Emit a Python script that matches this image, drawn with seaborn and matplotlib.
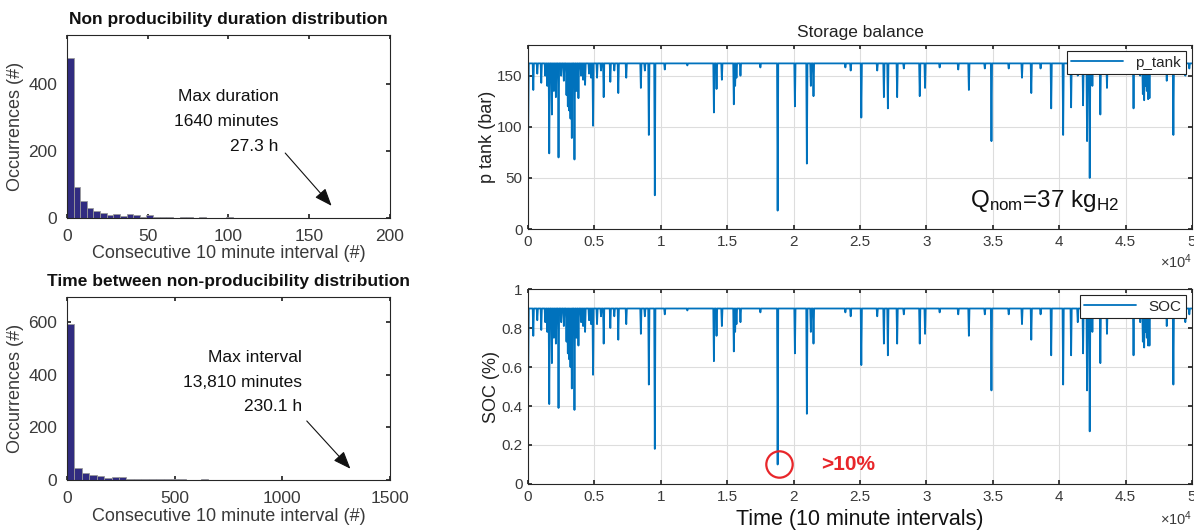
import numpy as np
import pandas as pd
import matplotlib
matplotlib.use("Agg")
import matplotlib.pyplot as plt
import seaborn as sns
from matplotlib.ticker import FuncFormatter

# ---------------- data ----------------
# Histogram 1: non producibility duration (40 bins over 0..164 intervals)
dur_max = 164
dur_counts = [478, 92, 52, 30, 22, 16, 8, 12, 7, 13, 9, 2, 8, 2, 2, 3, 1, 2, 3, 1,
              2, 1, 1, 1, 2, 1, 1, 1, 1, 1, 1, 0, 1, 1, 1, 1, 0, 1, 0, 1]
# Histogram 2: time between non-producibility (40 bins over 0..1381 intervals)
gap_max = 1381
gap_counts = [592, 45, 27, 20, 15, 7, 10, 11, 5, 4, 4, 3, 3, 4, 3, 2, 1, 1, 2, 1,
              1, 1, 1, 1, 1, 0, 1, 1, 0, 1, 0, 1, 0, 1, 0, 0, 1, 0, 1, 1]

# Storage balance time series: baseline and dips (interval index, value)
n_intervals = 50000
p_full = 162
p_start = 73
soc_full = 0.90
soc_start = 0.41
dip_pos = [400, 700, 1000, 1300, 1450, 1600, 1800, 1950, 2100, 2300, 2500, 2700, 2900,
           3000, 3100, 3200, 3300, 3500, 3650, 3800, 4000, 4150, 4300, 4600, 4750, 4900,
           5200, 5500, 5700, 6200, 6500, 6800, 7400, 8500, 8800, 9100, 9550, 10300,
           12000, 14000, 14200, 14600, 15500, 15600, 15700, 16000, 17500, 18800, 20100,
           21000, 21300, 21500, 23900, 24300, 25100, 26300, 26800, 27100, 27800, 28300,
           29500, 29900, 31000, 32400, 33200, 34400, 34900, 36200, 37200, 37900, 38600,
           39400, 40300, 40900, 41400, 41800, 42100, 42300, 42500, 43100, 43600, 44200,
           45600, 46100, 46300, 46400, 46500, 46600, 46700, 46800, 47500, 48100, 48600,
           49500, 49800]
p_dip = [136, 152, 143, 150, 140, 74, 112, 135, 129, 70, 150, 145, 131,
         120, 116, 108, 89, 68, 135, 128, 150, 146, 141, 152, 148, 101,
         148, 155, 129, 144, 155, 133, 148, 138, 155, 92, 33, 156,
         160, 114, 137, 146, 122, 140, 148, 150, 158, 18, 120,
         64, 140, 130, 158, 155, 109, 155, 129, 118, 129, 157,
         130, 138, 158, 156, 136, 157, 86, 157, 148, 133, 157,
         118, 92, 119, 150, 121, 86, 50, 140, 112, 138, 158,
         118, 150, 132, 126, 140, 135, 127, 128, 157, 145, 92,
         150, 157]
soc_dip = [0.76, 0.84, 0.79, 0.83, 0.78, 0.41, 0.62, 0.75, 0.72, 0.39, 0.83, 0.81, 0.73,
           0.67, 0.64, 0.60, 0.49, 0.38, 0.75, 0.71, 0.83, 0.81, 0.78, 0.84, 0.82, 0.56,
           0.82, 0.86, 0.72, 0.80, 0.86, 0.74, 0.82, 0.77, 0.86, 0.51, 0.18, 0.87,
           0.89, 0.63, 0.76, 0.81, 0.68, 0.78, 0.82, 0.83, 0.88, 0.10, 0.67,
           0.36, 0.78, 0.72, 0.88, 0.86, 0.61, 0.86, 0.72, 0.66, 0.72, 0.87,
           0.72, 0.77, 0.88, 0.87, 0.76, 0.87, 0.48, 0.87, 0.82, 0.74, 0.87,
           0.66, 0.51, 0.66, 0.83, 0.67, 0.48, 0.27, 0.78, 0.62, 0.77, 0.88,
           0.66, 0.83, 0.73, 0.70, 0.78, 0.75, 0.71, 0.71, 0.87, 0.81, 0.51,
           0.83, 0.87]


def build_series(start_val, full_val, dips):
    xs = [0, 60]
    ys = [start_val, full_val]
    half = 45
    for pos, val in dips:
        xs += [pos - half, pos, pos + half]
        ys += [full_val, val, full_val]
    xs.append(n_intervals)
    ys.append(full_val)
    return pd.DataFrame({"t": xs, "v": ys})


p_df = build_series(p_start, p_full, zip(dip_pos, p_dip))
soc_df = build_series(soc_start, soc_full, zip(dip_pos, soc_dip))

# ---------------- style ----------------
sns.set_theme(style="ticks")
plt.rcParams["font.family"] = ["Liberation Sans", "DejaVu Sans"]
TXT = "#3a3a3a"
plt.rcParams.update({
    "xtick.direction": "in", "ytick.direction": "in",
    "xtick.top": True, "ytick.right": True,
    "xtick.color": "#262626", "ytick.color": "#262626",
    "xtick.labelcolor": TXT, "ytick.labelcolor": TXT,
    "axes.edgecolor": "#262626", "axes.linewidth": 0.8,
    "xtick.major.size": 3, "ytick.major.size": 3,
    "mathtext.fontset": "custom",
    "mathtext.rm": "Liberation Sans",
    "mathtext.it": "Liberation Sans:italic",
    "mathtext.bf": "Liberation Sans:bold",
})

NAVY = "#312c80"
BLUE = "#0072BD"

fig = plt.figure(figsize=(11.94, 5.30), dpi=100)
ax1 = fig.add_axes([0.0561, 0.5887, 0.2705, 0.3453])
ax2 = fig.add_axes([0.0561, 0.0943, 0.2705, 0.3453])
ax3 = fig.add_axes([0.4422, 0.5679, 0.5561, 0.3472])
ax4 = fig.add_axes([0.4422, 0.0868, 0.5561, 0.3679])


def hist(ax, counts, vmax, xlim, ylim, xticks, yticks, title):
    edges = np.linspace(0, vmax, len(counts) + 1)
    centers = (edges[:-1] + edges[1:]) / 2
    hdf = pd.DataFrame({"x": centers, "w": np.asarray(counts, dtype=float)})
    sns.histplot(data=hdf, x="x", weights="w", bins=list(edges), ax=ax, color=NAVY,
                 edgecolor="#9a9a9a", linewidth=0.6, alpha=1.0)
    ax.set_xlim(*xlim)
    ax.set_ylim(*ylim)
    ax.set_xticks(xticks)
    ax.set_yticks(yticks)
    ax.tick_params(labelsize=12.5)
    ax.tick_params(axis="x", pad=8)
    ax.tick_params(axis="y", pad=7)
    ax.set_xlabel("Consecutive 10 minute interval (#)", fontsize=13, color=TXT, labelpad=1)
    ax.set_ylabel("Occurrences (#)", fontsize=13, color=TXT, labelpad=3)
    ax.set_title(title, fontsize=12.5, fontweight="bold", color="#111111", pad=8)


hist(ax1, dur_counts, dur_max, (0, 200), (0, 546), [0, 50, 100, 150, 200], [0, 200, 400],
     "Non producibility duration distribution")
ax1.text(131, 361, "Max duration", ha="right", va="center", fontsize=12.5, color="#111111")
ax1.text(131, 287, "1640 minutes", ha="right", va="center", fontsize=12.5, color="#111111")
ax1.text(131, 213, "27.3 h", ha="right", va="center", fontsize=12.5, color="#111111")
ax1.annotate("", xy=(165, 30), xytext=(134, 200),
             arrowprops=dict(arrowstyle="-|>,head_length=0.9,head_width=0.35",
                             color="#111111", lw=0.8))

hist(ax2, gap_counts, gap_max, (0, 1500), (0, 695), [0, 500, 1000, 1500], [0, 200, 400, 600],
     "Time between non-producibility distribution")
ax2.text(1092, 464, "Max interval", ha="right", va="center", fontsize=12.5, color="#111111")
ax2.text(1092, 372, "13,810 minutes", ha="right", va="center", fontsize=12.5, color="#111111")
ax2.text(1092, 280, "230.1 h", ha="right", va="center", fontsize=12.5, color="#111111")
ax2.annotate("", xy=(1325, 35), xytext=(1105, 232),
             arrowprops=dict(arrowstyle="-|>,head_length=0.9,head_width=0.35",
                             color="#111111", lw=0.8))

xfmt = FuncFormatter(lambda v, _: f"{v / 1e4:g}")


def series(ax, df, label, ylim, yticks, ylabel):
    sns.lineplot(data=df, x="t", y="v", ax=ax, color=BLUE, lw=1.3, label=label,
                 estimator=None, sort=False)
    ax.set_xlim(0, n_intervals)
    ax.set_ylim(*ylim)
    ax.set_xticks(np.arange(0, 50001, 5000))
    ax.xaxis.set_major_formatter(xfmt)
    ax.set_yticks(yticks)
    ax.grid(True, color="#dddddd", lw=0.8)
    ax.tick_params(labelsize=11, pad=4)
    ax.set_ylabel(ylabel, fontsize=13, color="#222222", labelpad=1)
    ax.set_xlabel("")
    ax.text(1.0, -0.18, r"$\times$10$^{4}$", transform=ax.transAxes, ha="right", va="center",
            fontsize=10.5, color=TXT)
    leg = ax.legend(loc="upper right", fontsize=11, frameon=True, fancybox=False,
                    framealpha=1.0, handlelength=3.4, borderpad=0.3, borderaxespad=0.4)
    leg.get_frame().set_edgecolor("#222222")
    leg.get_frame().set_linewidth(0.8)


series(ax3, p_df, "p_tank", (0, 180), [0, 50, 100, 150], "p tank (bar)")
ax3.set_title("Storage balance", fontsize=12.5, color="#222222", pad=6)
ax3.text(0.89 * n_intervals, 27, r"Q$_{\mathrm{nom}}$=37 kg$_{\mathrm{H2}}$",
         ha="right", va="center", fontsize=17.5, color="#111111")

series(ax4, soc_df, "SOC", (0, 1), [0, 0.2, 0.4, 0.6, 0.8, 1], "SOC (%)")
ax4.set_yticklabels(["0", "0.2", "0.4", "0.6", "0.8", "1"])
ax4.set_xlabel("Time (10 minute intervals)", fontsize=15.5, color="#111111", labelpad=4)
ax4.plot([18900], [0.10], marker="o", markersize=19, markerfacecolor="none",
         markeredgecolor="#e8262a", markeredgewidth=1.6, linestyle="none")
ax4.text(22100, 0.10, ">10%", fontsize=15, fontweight="bold", color="#e8262a",
         ha="left", va="center")

fig.savefig("out.png", dpi=100)
